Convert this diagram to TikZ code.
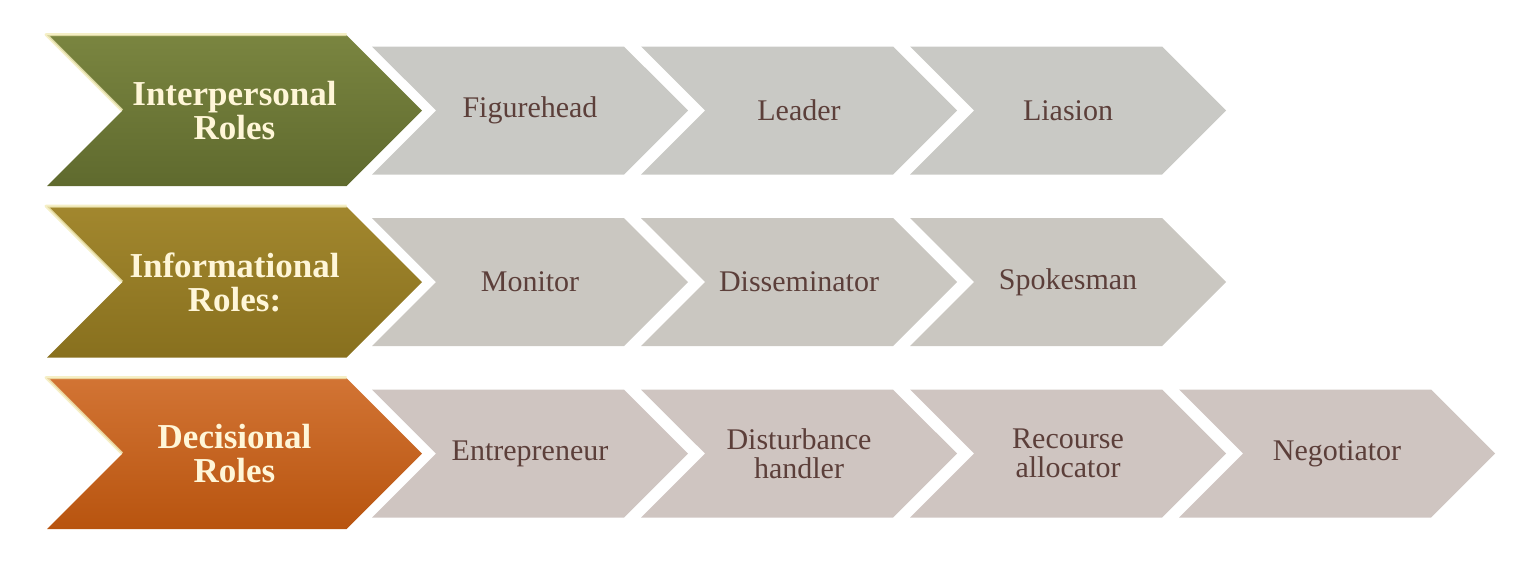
\documentclass[tikz,border=0pt]{standalone}
\usepackage{fontspec}
\setmainfont{Liberation Serif}
\usetikzlibrary{shapes.symbols,positioning}

\definecolor{interptop}{HTML}{7A8540}
\definecolor{interpbot}{HTML}{5F6A2E}
\definecolor{infotop}{HTML}{A2872E}
\definecolor{infobot}{HTML}{88701E}
\definecolor{decitop}{HTML}{D27434}
\definecolor{decibot}{HTML}{B8540F}
\definecolor{greyone}{HTML}{C9C9C5}
\definecolor{greytwo}{HTML}{CAC7C1}
\definecolor{greythree}{HTML}{CFC5C1}
\definecolor{cream}{HTML}{FFF6D8}
\definecolor{taskink}{HTML}{5C3F3A}
\definecolor{shine}{HTML}{F2EBB8}

\tikzset{
  rolebox/.style={signal, signal from=west, signal to=east,
    minimum width=187.5pt, minimum height=75.5pt, inner sep=0pt,
    align=center, text=cream, font=\bfseries\fontsize{17.5}{17}\selectfont},
  taskbox/.style={signal, signal from=west, signal to=east,
    minimum width=158pt, minimum height=64pt, inner sep=0pt,
    align=center, text=taskink, font=\fontsize{15}{14.5}\selectfont},
  bevel/.style={draw=shine, line width=1.5pt, opacity=0.8, line join=round},
}

\begin{document}
\begin{tikzpicture}[x=0.5pt,y=-0.5pt,on grid,node distance=134.5pt]
  \useasboundingbox (0,0) rectangle (1536,569);
  % interpersonal
  \node[rolebox,top color=interptop,bottom color=interpbot] (inter) at (234.5,110.5) {Interpersonal\\Roles};
  \node[taskbox,fill=greyone] [right=147.75pt of inter] (figure) {Figurehead};
  \node[taskbox,fill=greyone] [right=of figure] (leader) {Leader};
  \node[taskbox,fill=greyone] [right=of leader] (liaison) {Liasion};
  % informational
  \node[rolebox,top color=infotop,bottom color=infobot] (info) at (234.5,282) {Informational\\Roles:};
  \node[taskbox,fill=greytwo] [right=147.75pt of info] (monitor) {Monitor};
  \node[taskbox,fill=greytwo] [right=of monitor] (dissem) {Disseminator};
  \node[taskbox,fill=greytwo] [right=of dissem] (spokes) {Spokesman};
  % decisional
  \node[rolebox,top color=decitop,bottom color=decibot] (deci) at (234.5,453.5) {Decisional\\Roles};
  \node[taskbox,fill=greythree] [right=147.75pt of deci] (entre) {Entrepreneur};
  \node[taskbox,fill=greythree] [right=of entre] (disturb) {Disturbance\\handler};
  \node[taskbox,fill=greythree] [right=of disturb] (resource) {Recourse\\allocator};
  \node[taskbox,fill=greythree] [right=of resource] (nego) {Negotiator};
  % highlights on the role arrows
  \foreach \r in {inter,info,deci}
    \draw[bevel] (\r.west) -- (\r.north west) -- (\r.north east);
\end{tikzpicture}
\end{document}
